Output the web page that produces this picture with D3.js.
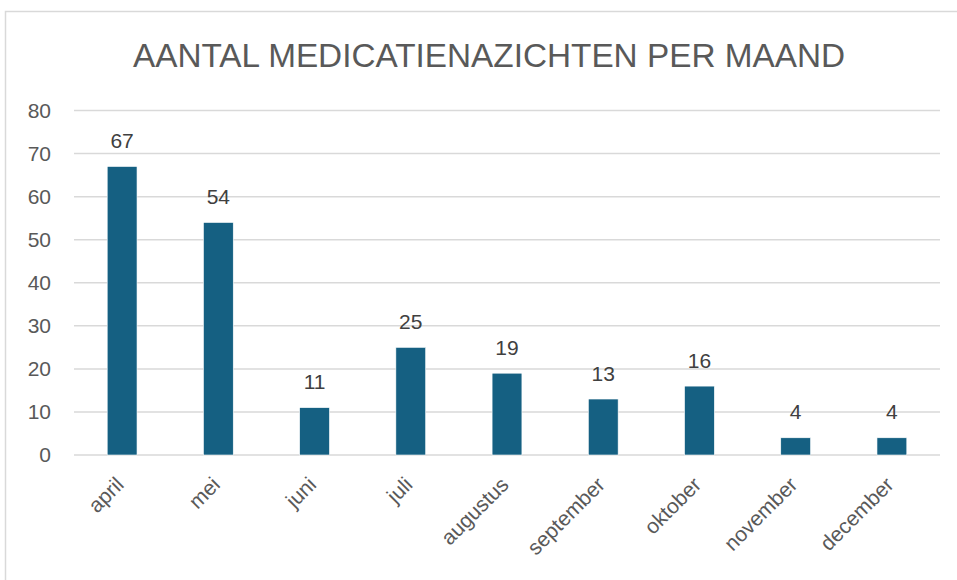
<!DOCTYPE html>
<html>
<head>
<meta charset="utf-8">
<script src="https://cdn.jsdelivr.net/npm/d3@7"></script>
<style>
body { margin: 0; background: #fff; }
svg { display: block; font-family: 'Liberation Sans', Arial, sans-serif; }
</style>
</head>
<body>
<div id="chart"></div>
<script>
var months = ['april', 'mei', 'juni', 'juli', 'augustus', 'september', 'oktober', 'november', 'december'];
var counts = [67, 54, 11, 25, 19, 13, 16, 4, 4];
var yTicks = [0, 10, 20, 30, 40, 50, 60, 70, 80];

var width = 957, height = 580;

var svg = d3.select('#chart').append('svg')
	.attr('width', width)
	.attr('height', height);

// chart frame, runs off the right and bottom edge
svg.append('rect')
	.attr('x', 5.5).attr('y', 11.5)
	.attr('width', 1000).attr('height', 1000)
	.attr('fill', '#fff')
	.attr('stroke', '#d9d9d9')
	.attr('stroke-width', 1.5);

svg.append('text')
	.attr('x', 489).attr('y', 67)
	.attr('text-anchor', 'middle')
	.attr('font-size', 33)
	.attr('fill', '#595959')
	.attr('textLength', 712)
	.attr('lengthAdjust', 'spacingAndGlyphs')
	.text('AANTAL MEDICATIENAZICHTEN PER MAAND');

var x = d3.scaleBand()
	.domain(months)
	.range([74, 940])
	.paddingInner(0.69)
	.paddingOuter(0.345);

var y = d3.scaleLinear()
	.domain([0, 80])
	.range([455, 110.5]);

var yAxis = d3.axisLeft(y).tickValues(yTicks).tickSize(0).tickPadding(0);

var yAxisG = svg.append('g')
	.attr('transform', 'translate(51,0)')
	.call(yAxis);
yAxisG.select('.domain').remove();
yAxisG.selectAll('text')
	.attr('font-size', 21)
	.attr('fill', '#595959')
	.attr('font-family', 'Liberation Sans, Arial, sans-serif');

svg.append('g').selectAll('line')
	.data(yTicks)
	.enter().append('line')
	.attr('x1', 74).attr('x2', 940)
	.attr('y1', function(d) { return y(d); })
	.attr('y2', function(d) { return y(d); })
	.attr('stroke', '#d9d9d9')
	.attr('stroke-width', 1.5);

var data = months.map(function(m, i) { return { month: m, value: counts[i] }; });

svg.append('g').selectAll('rect')
	.data(data)
	.enter().append('rect')
	.attr('x', function(d) { return x(d.month); })
	.attr('y', function(d) { return y(d.value); })
	.attr('width', x.bandwidth())
	.attr('height', function(d) { return y(0) - y(d.value); })
	.attr('fill', '#156082')
	.attr('stroke', '#fff')
	.attr('stroke-width', 0.6);

svg.append('g').selectAll('text')
	.data(data)
	.enter().append('text')
	.attr('x', function(d) { return x(d.month) + x.bandwidth() / 2; })
	.attr('y', function(d) { return y(d.value) - 18.5; })
	.attr('text-anchor', 'middle')
	.attr('font-size', 21)
	.attr('fill', '#404040')
	.text(function(d) { return d.value; });

var xAxis = d3.axisBottom(x).tickSize(0).tickPadding(0);
var xAxisG = svg.append('g')
	.attr('transform', 'translate(0,455)')
	.call(xAxis);
xAxisG.select('.domain').remove();
xAxisG.selectAll('text')
	.attr('font-size', 21)
	.attr('fill', '#595959')
	.attr('font-family', 'Liberation Sans, Arial, sans-serif')
	.attr('text-anchor', 'end')
	.attr('dy', null)
	.attr('y', 0)
	.attr('transform', 'translate(3,31) rotate(-45)');
</script>
</body>
</html>
